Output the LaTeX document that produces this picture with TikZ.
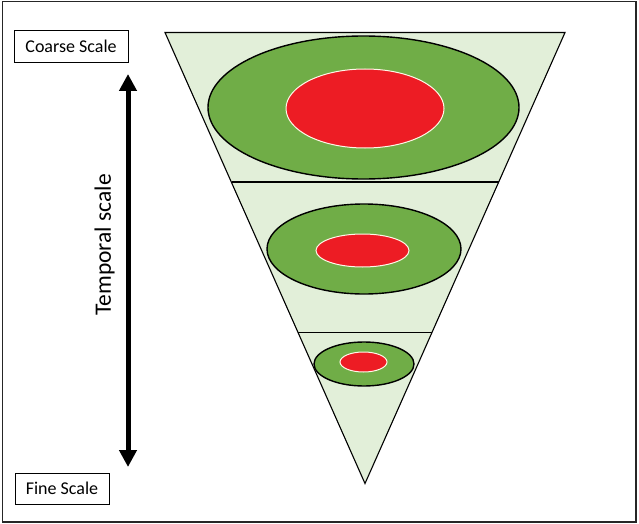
\documentclass[tikz,border=0pt]{standalone}
\usepackage{fontspec}
\setmainfont{Carlito}
\usetikzlibrary{arrows.meta}
\definecolor{lightg}{HTML}{E2EFD9}
\definecolor{midg}{HTML}{70AD47}
\definecolor{redc}{HTML}{ED1C24}
\definecolor{cream}{HTML}{FFF8E8}
\tikzset{
  outer/.style={fill=midg, draw=black, line width=1.4pt},
  inner/.style={fill=redc, draw=cream, line width=1pt},
  labelbox/.style={draw=black, line width=0.8pt, fill=white, inner sep=0pt, font=\fontsize{18}{20}\selectfont},
}
\begin{document}
\begin{tikzpicture}[x=1pt,y=-1pt]
\useasboundingbox (0,0) rectangle (639,524);
\draw[line width=1.5pt, black!85] (2.5,1.5) rectangle (636,522);
% triangle
\coordinate (tl) at (165,32.5);
\coordinate (tr) at (565,32.5);
\coordinate (ap) at (365,483.5);
\fill[lightg] (tl) -- (tr) -- (ap) -- cycle;
% dividers
\coordinate (d1l) at (231.5,182);
\coordinate (d1r) at (498.5,182);
\coordinate (d2l) at (298,332.5);
\coordinate (d2r) at (432,332.5);
\draw[line width=1.1pt] (d1l) -- (d1r);
\draw[line width=1.1pt] (d2l) -- (d2r);
\draw[line width=1.1pt, line join=miter] (tl) -- (tr) -- (ap) -- cycle;
% ellipses
\path[outer] (363.5,107.5) ellipse [x radius=155.5, y radius=71.5];
\path[inner] (365,108.5) ellipse [x radius=79, y radius=39.5];
\path[outer] (364,249) ellipse [x radius=97, y radius=45];
\path[inner] (362.5,250.5) ellipse [x radius=46.5, y radius=16.5];
\path[outer] (364,364) ellipse [x radius=50, y radius=22];
\path[inner] (363.5,362) ellipse [x radius=23.5, y radius=10];
% labels
\node[labelbox, minimum width=114pt, minimum height=32pt] (coarse) at (71,46) {Coarse Scale};
\node[labelbox, minimum width=94pt, minimum height=31pt] (fine) at (62,488.5) {Fine Scale};
% arrow
\coordinate (atop) at (128,74);
\coordinate (abot) at (128,467);
\draw[line width=5pt, {Triangle[length=17pt,width=17pt]}-{Triangle[length=17pt,width=17pt]}] (atop) -- (abot);
\node[rotate=90, font=\fontsize{23.5}{26}\selectfont, inner sep=0pt] (temporal) at (104.5,245) {Temporal scale};
\end{tikzpicture}
\end{document}
